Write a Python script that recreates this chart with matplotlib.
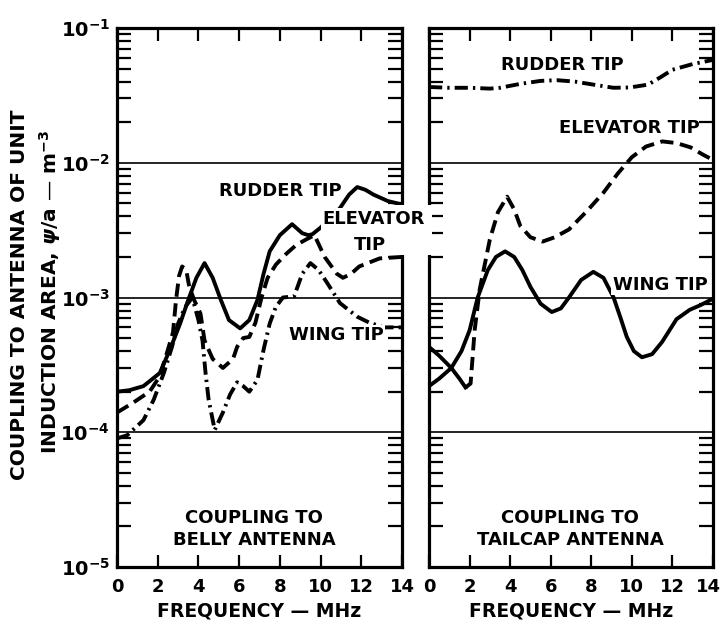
import matplotlib
matplotlib.use('Agg')
import matplotlib.pyplot as plt
from matplotlib.patches import Rectangle
from matplotlib.ticker import LogLocator, NullFormatter
from matplotlib.transforms import ScaledTranslation

plt.rcParams['font.family'] = 'DejaVu Sans'
plt.rcParams['font.weight'] = 'bold'
plt.rcParams['mathtext.fontset'] = 'dejavusans'

# ---- belly antenna (left panel) ----
belly_rudder_x = [0, 0.6, 1.3, 2.1, 2.6, 3.1, 3.5, 3.9, 4.3, 4.7, 5.1, 5.5, 6.05, 6.5, 6.9, 7.2,
                  7.5, 8.0, 8.6, 9.1, 9.4, 9.6, 10.0, 10.5, 10.95, 11.4, 11.8, 12.2, 12.6, 13.3, 14]
belly_rudder_y = [2.0e-4, 2.05e-4, 2.2e-4, 2.75e-4, 4.1e-4, 6.4e-4, 9.6e-4, 1.4e-3, 1.8e-3, 1.4e-3,
                  9.6e-4, 6.8e-4, 5.9e-4, 6.8e-4, 9.6e-4, 1.5e-3, 2.2e-3, 2.9e-3, 3.5e-3, 3.0e-3,
                  2.9e-3, 2.95e-3, 3.3e-3, 3.9e-3, 4.6e-3, 5.8e-3, 6.6e-3, 6.3e-3, 5.8e-3, 5.2e-3, 4.9e-3]

belly_elev_x = [0, 0.8, 1.6, 2.1, 2.5, 2.75, 2.9, 3.05, 3.2, 3.4, 3.55, 3.8, 4.1, 4.3, 4.7, 5.2,
                5.7, 5.9, 6.2, 6.5, 6.8, 7.1, 7.4, 7.8, 8.3, 8.8, 9.3, 9.7, 10.2, 10.8, 11.1, 11.5,
                11.9, 12.9, 14]
belly_elev_y = [1.4e-4, 1.66e-4, 2.0e-4, 2.6e-4, 4.1e-4, 5.5e-4, 9.6e-4, 1.45e-3, 1.7e-3, 1.6e-3,
                1.2e-3, 9.5e-4, 7.6e-4, 4.8e-4, 3.5e-4, 3.0e-4, 3.5e-4, 4.3e-4, 5.0e-4, 5.1e-4,
                6.5e-4, 1.0e-3, 1.4e-3, 1.75e-3, 2.1e-3, 2.45e-3, 2.7e-3, 2.9e-3, 2.0e-3, 1.5e-3,
                1.4e-3, 1.5e-3, 1.7e-3, 1.95e-3, 2.0e-3]

belly_wing_x = [0, 0.5, 1.3, 1.8, 2.3, 2.7, 3.0, 3.35, 3.7, 4.0, 4.2, 4.35, 4.5, 4.8, 5.2, 5.55,
                5.9, 6.2, 6.5, 6.9, 7.2, 7.5, 7.8, 8.15, 8.7, 9.1, 9.5, 9.9, 10.3, 10.95, 11.8,
                12.4, 13.1, 14]
belly_wing_y = [9.0e-5, 9.5e-5, 1.23e-4, 1.74e-4, 2.75e-4, 4.3e-4, 6.4e-4, 8.5e-4, 1.0e-3, 6.8e-4,
                4.8e-4, 2.75e-4, 1.75e-4, 1.04e-4, 1.4e-4, 1.9e-4, 2.35e-4, 2.2e-4, 2.0e-4, 2.45e-4,
                4.1e-4, 6.4e-4, 8.5e-4, 1.0e-3, 1.02e-3, 1.5e-3, 1.8e-3, 1.6e-3, 1.3e-3, 9.1e-4,
                7.2e-4, 6.5e-4, 6.0e-4, 6.0e-4]

# ---- tailcap antenna (right panel) ----
tail_rudder_x = [0, 1, 2, 3, 3.5, 4.5, 5.5, 6.3, 7.2, 8.1, 9.1, 9.9, 10.8, 11.4, 12.0, 13.0, 14]
tail_rudder_y = [3.65e-2, 3.6e-2, 3.6e-2, 3.55e-2, 3.6e-2, 3.85e-2, 4.05e-2, 4.1e-2, 4.0e-2,
                 3.8e-2, 3.6e-2, 3.62e-2, 3.8e-2, 4.3e-2, 4.9e-2, 5.4e-2, 5.8e-2]

tail_elev_x = [0, 0.5, 1.1, 1.5, 1.8, 2.05, 2.25, 2.5, 3.0, 3.4, 3.85, 4.2, 4.5, 5.0, 5.6, 6.2,
               6.9, 7.8, 8.6, 9.3, 10.0, 10.7, 11.5, 12.2, 12.9, 13.5, 14]
tail_elev_y = [4.3e-4, 3.7e-4, 3.0e-4, 2.5e-4, 2.15e-4, 2.3e-4, 5.7e-4, 1.15e-3, 2.7e-3, 4.3e-3,
               5.6e-3, 4.5e-3, 3.4e-3, 2.8e-3, 2.6e-3, 2.8e-3, 3.2e-3, 4.4e-3, 6.0e-3, 8.3e-3,
               1.1e-2, 1.32e-2, 1.44e-2, 1.4e-2, 1.3e-2, 1.15e-2, 1.05e-2]
tail_elev_solid_n = 5  # first part of this curve is drawn solid in the original

tail_wing_x = [0, 0.5, 1.1, 1.6, 2.0, 2.4, 2.9, 3.3, 3.75, 4.2, 4.6, 5.0, 5.5, 6.05, 6.5, 6.9,
               7.5, 8.1, 8.6, 9.1, 9.45, 9.75, 10.1, 10.5, 11.0, 11.5, 12.2, 12.85, 13.4, 14]
tail_wing_y = [2.2e-4, 2.5e-4, 3.0e-4, 4.0e-4, 5.7e-4, 1.0e-3, 1.6e-3, 2.0e-3, 2.2e-3, 2.0e-3,
               1.6e-3, 1.2e-3, 9.0e-4, 7.8e-4, 8.3e-4, 1.0e-3, 1.35e-3, 1.55e-3, 1.4e-3, 1.0e-3,
               7.0e-4, 5.1e-4, 4.0e-4, 3.6e-4, 3.8e-4, 4.7e-4, 6.9e-4, 8.1e-4, 8.8e-4, 9.8e-4]

x_ticks = [0, 2, 4, 6, 8, 10, 12, 14]
decades = [1e-5, 1e-4, 1e-3, 1e-2, 1e-1]
decade_labels = [r'$\mathbf{10^{-5}}$', r'$\mathbf{10^{-4}}$', r'$\mathbf{10^{-3}}$',
                 r'$\mathbf{10^{-2}}$', r'$\mathbf{10^{-1}}$']

LW = 2.8
DASH = (0, (3.4, 1.7))
DASHDOT = (0, (3.4, 1.3, 0.6, 1.3))

fig = plt.figure(figsize=(7.21, 6.2), dpi=100)
ax1 = fig.add_axes([117 / 721, 1 - 567 / 620, 285 / 721, 539 / 620])
ax2 = fig.add_axes([429 / 721, 1 - 567 / 620, 284 / 721, 539 / 620])


def style_axis(ax, show_ylabels):
    ax.set_yscale('log')
    ax.set_xlim(0, 14)
    ax.set_ylim(1e-5, 1e-1)
    for d in decades[1:-1]:
        ax.axhline(d, color='black', lw=1.2, zorder=1)
    ax.set_xticks(x_ticks)
    ax.set_xticklabels([str(t) for t in x_ticks])
    ax.set_yticks(decades)
    if show_ylabels:
        ax.set_yticklabels(decade_labels)
    else:
        ax.set_yticklabels([])
    ax.yaxis.set_minor_locator(LogLocator(base=10, subs=range(2, 10)))
    ax.yaxis.set_minor_formatter(NullFormatter())
    ax.tick_params(axis='x', which='major', direction='in', top=True, bottom=True,
                   length=9, width=1.6, labelsize=13, pad=8)
    ax.tick_params(axis='y', which='major', direction='in', left=True, right=True,
                   length=0, labelsize=14, pad=5)
    ax.tick_params(axis='y', which='minor', direction='in', left=True, right=True,
                   length=10, width=1.6)
    for sp in ax.spines.values():
        sp.set_linewidth(2.3)
    ax.set_xlabel('FREQUENCY — MHz', fontsize=13.5, fontweight='bold', labelpad=4)


style_axis(ax1, True)
style_axis(ax2, False)

# keep the last "14" of the right panel inside the picture
last = ax2.get_xticklabels()[-1]
last.set_horizontalalignment('right')
last.set_transform(last.get_transform() + ScaledTranslation(8 / 100, 0, fig.dpi_scale_trans))

# left panel curves
ax1.plot(belly_rudder_x, belly_rudder_y, color='black', lw=LW, ls='-', zorder=3)
ax1.plot(belly_elev_x, belly_elev_y, color='black', lw=LW, ls=DASH, zorder=3)
ax1.plot(belly_wing_x, belly_wing_y, color='black', lw=LW, ls=DASHDOT, zorder=3)

# right panel curves
ax2.plot(tail_rudder_x, tail_rudder_y, color='black', lw=LW, ls=DASHDOT, zorder=3)
ax2.plot(tail_elev_x[:tail_elev_solid_n], tail_elev_y[:tail_elev_solid_n],
         color='black', lw=LW, ls='-', zorder=3)
ax2.plot(tail_elev_x[tail_elev_solid_n - 1:], tail_elev_y[tail_elev_solid_n - 1:],
         color='black', lw=LW, ls=DASH, zorder=3)
ax2.plot(tail_wing_x, tail_wing_y, color='black', lw=LW, ls='-', zorder=3)

lab = dict(fontsize=13, fontweight='bold', ha='center', va='center', zorder=5)
box = dict(facecolor='white', edgecolor='none', pad=1.0)

ax1.text(8.0, 6.2e-3, 'RUDDER TIP', **lab)
ax1.text(10.76, 5.27e-4, 'WING TIP', bbox=box, **lab)
ax1.text(6.73, 1.91e-5, 'COUPLING TO\nBELLY ANTENNA', linespacing=1.25, **lab)

ax2.text(6.55, 5.3e-2, 'RUDDER TIP', **lab)
ax2.text(9.9, 1.81e-2, 'ELEVATOR TIP', **lab)
ax2.text(11.4, 1.24e-3, 'WING TIP', bbox=box, **lab)
ax2.text(6.95, 1.91e-5, 'COUPLING TO\nTAILCAP ANTENNA', linespacing=1.25, **lab)

# the ELEVATOR TIP label of the left panel sits across the gap between panels
fig.patches.append(Rectangle((345 / 721, 1 - 255 / 620), 87 / 721, 50 / 620,
                             transform=fig.transFigure, facecolor='white',
                             edgecolor='none', zorder=2))
fig.text(374 / 721, 1 - 219 / 620, 'ELEVATOR', fontsize=13, fontweight='bold',
         ha='center', va='center', bbox=dict(facecolor='white', edgecolor='none', pad=1.5))
fig.text(370 / 721, 1 - 245 / 620, 'TIP', fontsize=13, fontweight='bold',
         ha='center', va='center')

# two-line y label
fig.text(20 / 721, 1 - 295 / 620, 'COUPLING TO ANTENNA OF UNIT', rotation=90,
         fontsize=14.5, fontweight='bold', ha='center', va='center')
fig.text(50 / 721, 1 - 292 / 620, r'INDUCTION AREA, $\psi$/a — m$^{\mathbf{-3}}$',
         rotation=90, fontsize=14.5, fontweight='bold', ha='center', va='center')

fig.savefig('out.png', dpi=100)
